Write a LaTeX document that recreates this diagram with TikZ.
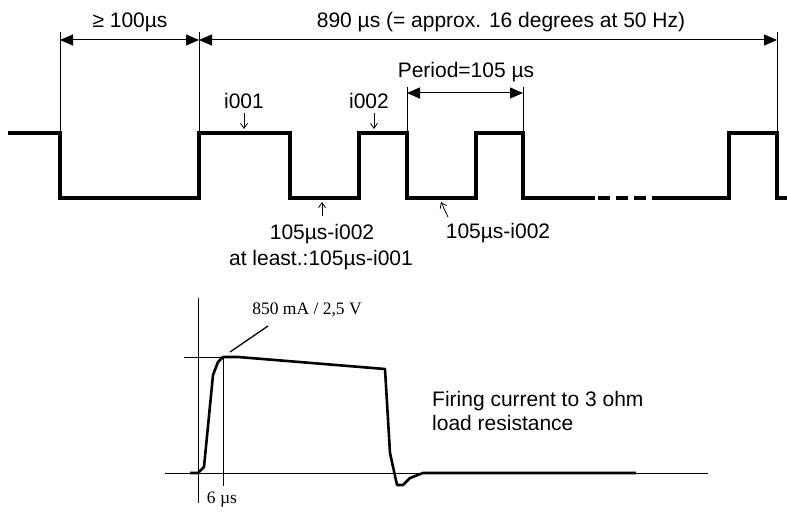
\documentclass[tikz,border=0pt]{standalone}
\usepackage{fontspec}
\setmainfont{Liberation Sans}
\newfontfamily\serifff{Liberation Serif}
\usetikzlibrary{arrows.meta}
\tikzset{
  wave/.style={line width=3.6pt, line join=miter, line cap=rect},
  pulse/.style={line width=2.6pt, line join=round},
  thinl/.style={line width=0.9pt},
  dimline/.style={line width=1pt, {Triangle[length=13pt,width=11pt]}-{Triangle[length=13pt,width=11pt]}},
  smallarr/.style={line width=0.8pt, -{Straight Barb[length=5pt,width=7pt]}},
  lbl/.style={font=\fontsize{21}{24.5}\selectfont, inner sep=0pt, align=left},
  slbl/.style={font=\serifff\fontsize{17.5}{21}\selectfont, inner sep=0pt},
}
\begin{document}
\begin{tikzpicture}[x=1pt,y=-1pt]
\useasboundingbox (0,0) rectangle (787,513);

% ---------- top waveform ----------
\draw[wave] (10,133) -- (60,133) -- (60,198) -- (199,198) -- (199,133) -- (290,133) -- (290,198)
  -- (359,198) -- (359,133) -- (407,133) -- (407,198) -- (476,198) -- (476,133) -- (523,133)
  -- (523,198) -- (593,198);
\draw[wave, line cap=butt, dash pattern=on 12pt off 6pt] (598,198) -- (660,198);
\draw[wave] (660,198) -- (729,198) -- (729,133) -- (777,133) -- (777,198) -- (790,198);

% ---------- dimension extension lines ----------
\coordinate (e1t) at (60,32);   \coordinate (e1b) at (60,131);
\coordinate (e2t) at (199,32);  \coordinate (e2b) at (199,131);
\coordinate (e3t) at (777,32);  \coordinate (e3b) at (777,131);
\coordinate (p1t) at (407,87);  \coordinate (p1b) at (407,131);
\coordinate (p2t) at (523,87);  \coordinate (p2b) at (523,131);
\draw[thinl] (e1t) -- (e1b);
\draw[thinl] (e2t) -- (e2b);
\draw[thinl] (e3t) -- (e3b);
\draw[thinl] (p1t) -- (p1b);
\draw[thinl] (p2t) -- (p2b);

\coordinate (d1a) at (60,40);  \coordinate (d1b) at (199,40);
\coordinate (d2a) at (199,40); \coordinate (d2b) at (777,40);
\coordinate (d3a) at (407,93); \coordinate (d3b) at (523,93);
\draw[dimline] (d1a) -- (d1b);
\draw[dimline] (d2a) -- (d2b);
\draw[dimline] (d3a) -- (d3b);

\node[lbl] (t100) at (130,22) {≥ 100µs};
\node[lbl] (t890) at (501,22) {890 µs (= approx. 16 degrees at 50 Hz)};
\node[lbl] (tper) at (466,72) {Period=105 µs};

\node[lbl] (ti1) at (244,101) {i001};
\node[lbl] (ti2) at (369,101) {i002};
\coordinate (a1s) at (244,113); \coordinate (a1e) at (244,129);
\coordinate (a2s) at (374,113); \coordinate (a2e) at (374,129);
\draw[smallarr] (a1s) -- (a1e);
\draw[smallarr] (a2s) -- (a2e);

\node[lbl] (tl1) at (322,234) {105µs-i002};
\node[lbl] (tl2) at (321,260) {at least.:105µs-i001};
\node[lbl] (tl3) at (498,233) {105µs-i002};
\coordinate (a3s) at (322,216); \coordinate (a3e) at (322,202);
\coordinate (a4s) at (448,217); \coordinate (a4e) at (441,202);
\draw[smallarr] (a3s) -- (a3e);
\draw[smallarr] (a4s) -- (a4e);

% ---------- bottom graph ----------
\coordinate (vaT) at (198,298); \coordinate (vaB) at (198,503);
\coordinate (haL) at (165,473); \coordinate (haR) at (708,473);
\coordinate (hkL) at (184,357); \coordinate (hkR) at (224,357);
\coordinate (vkT) at (223,357); \coordinate (vkB) at (223,486);
\draw[thinl] (vaT) -- (vaB);
\draw[thinl] (haL) -- (haR);
\draw[thinl] (hkL) -- (hkR);
\draw[thinl] (vkT) -- (vkB);

\draw[pulse] (190,473) -- (198,473) -- (204,467) -- (213,375) -- (218,362) -- (223,357)
  -- (238,357) -- (385,369) -- (390,453) -- (397,485) -- (403,485) -- (410,478)
  -- (423,473) -- (636,473);

\coordinate (ldA) at (230,352); \coordinate (ldB) at (268,326);
\draw[line width=1.3pt] (ldA) -- (ldB);

\node[slbl] (t850) at (307,310) {850 mA / 2,5 V};
\node[slbl] (t6) at (222,500) {6 µs};
\node[lbl, anchor=west, align=left] (tfire) at (432,411) {Firing current to 3 ohm\\load resistance};
\end{tikzpicture}
\end{document}
